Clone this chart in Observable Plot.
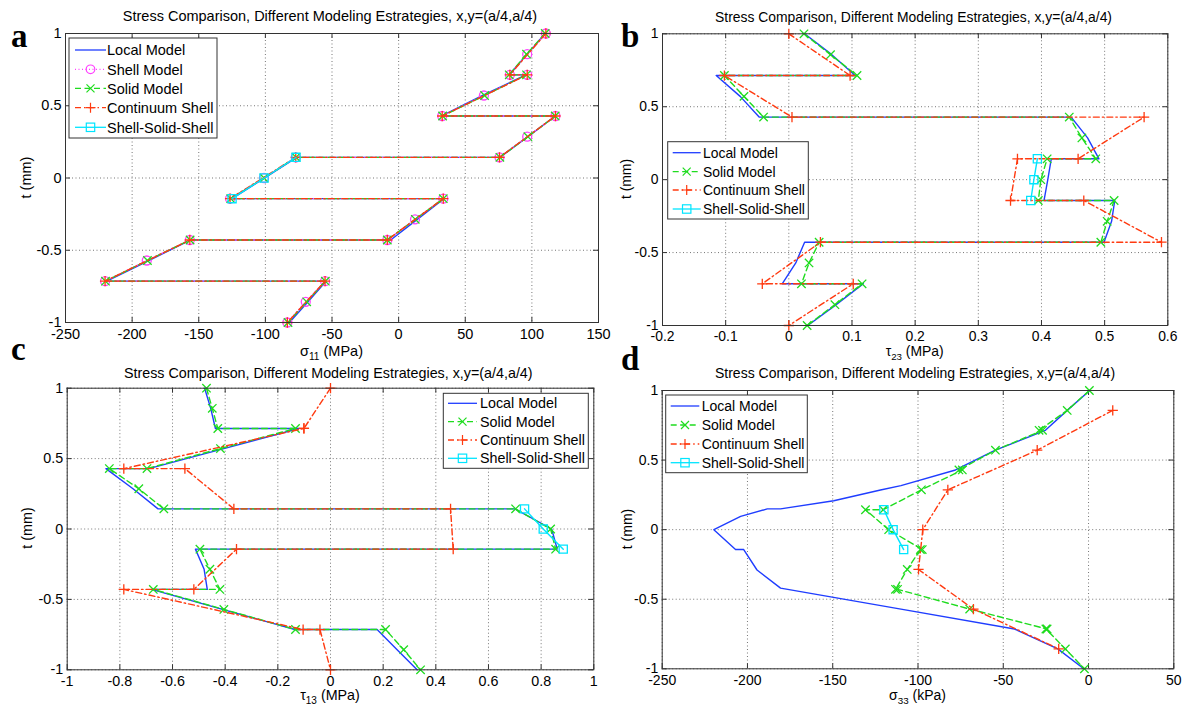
<!DOCTYPE html>
<html><head><meta charset="utf-8">
<script src="https://cdn.jsdelivr.net/npm/d3@7"></script>
<script src="https://cdn.jsdelivr.net/npm/@observablehq/plot@0.6"></script>
<style>
body{margin:0;background:#fff;}
#root{position:relative;width:1186px;height:707px;overflow:hidden;background:#fff;}
.pnl{position:absolute;}
#overlay{position:absolute;left:0;top:0;}
</style>
</head><body>
<div id="root"></div>
<script>
// ---------------- DATA ----------------
const yTicks = [-1, -0.5, 0, 0.5, 1];
const xTicksA = [-250, -200, -150, -100, -50, 0, 50, 100, 150];
const xTicksB = [-0.2, -0.1, 0, 0.1, 0.2, 0.3, 0.4, 0.5, 0.6];
const xTicksC = [-1, -0.8, -0.6, -0.4, -0.2, 0, 0.2, 0.4, 0.6, 0.8, 1];
const xTicksD = [-250, -200, -150, -100, -50, 0, 50];

// through-thickness positions t (mm)
const tFull = [1, 0.857, 0.714, 0.714, 0.571, 0.429, 0.429, 0.286, 0.143, 0.143, 0, -0.143, -0.143, -0.286, -0.429, -0.429, -0.571, -0.714, -0.714, -0.857, -1];
const tIface = [1, 0.714, 0.714, 0.429, 0.429, 0.143, 0.143, -0.143, -0.143, -0.429, -0.429, -0.714, -0.714, -1];
const tCore = [0.143, 0, -0.143];
const tMidLayer = [0.857, 0.571, 0.286, 0, -0.286, -0.571, -0.857];
const tLocalD = [1, 0.857, 0.714, 0.571, 0.429, 0.316, 0.285, 0.208, 0.149, 0.149, 0.095, 0, -0.143, -0.143, -0.29, -0.42, -0.571, -0.714, -0.857, -1];

// (a) sigma_11 (MPa)
const aLocal = [110, 96.5, 83, 95.5, 63, 32, 117.7, 97, 76, -76.5, -100.5, -125, 34, 14, -6, -156, -187.5, -219, -54.5, -68, -82];
const aShell = [110.5, 96.5, 83.5, 96.5, 64, 32.7, 117.7, 96.5, 75.7, -77.2, -101, -126.5, 33.5, 12.3, -8.5, -156.7, -189, -220.3, -55.2, -69.7, -83.5];
const aSolid = [110, 96, 83, 96, 64.5, 33, 117.5, 97, 76, -77, -101, -126, 33.5, 12.5, -8.5, -156.5, -188.5, -220, -55, -69, -83];
const aCont = [110.5, 83.5, 96.5, 32.7, 117.7, 75.7, -77.2, -126.5, 33.5, -8.5, -156.7, -220.3, -55.2, -83.5];
const aSSS = [-77, -101, -125];

// (b) tau_23 (MPa)
const bLocal = [0.025, 0.068, 0.105, -0.115, -0.077, -0.047, 0.447, 0.473, 0.491, 0.4155, 0.41, 0.404, 0.516, 0.511, 0.499, 0.025, 0.011, -0.0105, 0.118, 0.075, 0.030];
const bSolid = [0.024, 0.066, 0.108, -0.102, -0.071, -0.040, 0.444, 0.464, 0.486, 0.409, 0.399, 0.395, 0.515, 0.504, 0.494, 0.048, 0.032, 0.020, 0.116, 0.073, 0.029];
const bCont = [0, 0.097, -0.102, 0.005, 0.5625, 0.458, 0.362, 0.351, 0.467, 0.590, 0.050, -0.042, 0.102, 0];
const bSSS = [0.3935, 0.388, 0.383];

// (c) tau_13 (MPa)
const cLocal = [-0.478, -0.455, -0.437, -0.12, -0.405, -0.69, -0.853, -0.75, -0.655, 0.70, 0.84, 0.861, -0.513, -0.48, -0.468, -0.68, -0.41, -0.135, 0.177, 0.253, 0.329];
const cSolid = [-0.471, -0.449, -0.428, -0.133, -0.418, -0.697, -0.84, -0.728, -0.633, 0.703, 0.836, 0.855, -0.496, -0.458, -0.42, -0.673, -0.405, -0.133, 0.209, 0.278, 0.342];
const cCont = [0, -0.101, -0.101, -0.785, -0.553, -0.367, 0.456, 0.466, -0.357, -0.519, -0.785, -0.104, -0.04, 0];
const cSSS = [0.737, 0.808, 0.884];

// (d) sigma_33 (kPa)
const dLocal = [0.7, -12.5, -25.3, -54.6, -78, -110, -122, -149.4, -180.6, -188.4, -204, -219.7, -207, -202.2, -194.4, -180.6, -110, -43.4, -18, -2.8];
const dSolid = [0.5, -12.5, -29, -27, -54.6, -76, -74, -98, -120.4, -130.8, -117.2, -97.5, -98.6, -106.3, -113.2, -112, -69.7, -24.3, -25, -13.6, -2.4];
const dCont = [14.2, -30.1, -82.5, -97.2, -99.7, -67.5, -17.5];
const dSSS = [-120, -114.6, -108.4];

const titleText = "Stress Comparison, Different Modeling Estrategies, x,y=(a/4,a/4)";

// ---------------- STYLES ----------------
const FONT = '"Liberation Sans", Arial, Helvetica, sans-serif';
const SERIES = {
  local: {label: "Local Model", color: "#1f3dff", dash: null, symbol: null},
  shell: {label: "Shell Model", color: "#ff40ff", dash: "1,2.5", symbol: "circle", r: 4.5},
  solid: {label: "Solid Model", color: "#1fdc1f", dash: "6,3.5", symbol: "times", r: 3.9},
  cont:  {label: "Continuum Shell", color: "#ff3a10", dash: "6,3,1.5,3", symbol: "plus", r: 3.4},
  sss:   {label: "Shell-Solid-Shell", color: "#00e5ff", dash: null, symbol: "square", r: 4.6}
};
const zip = (ts, xs) => ts.map((t, i) => ({t, v: xs[i]}));

const panels = [
  {id: "a", left: 0, top: 0, w: 610, h: 345, ml: 65, mr: 12, mt: 33, mb: 23, fs: 14.5,
   xdom: [-250, 150], xticks: xTicksA,
   title: [330, 21], xlab: [331.5, 356, "σ", "11", " (MPa)"], ylab: [31, 177.5], letter: [11, 47],
   legend: {x: 69, y: 38, w: 148, h: 100, rows: [12, 31.3, 50.3, 69.7, 89.3], s0: 6, s1: 37, tx: 38},
   keys: ["local", "shell", "solid", "cont", "sss"],
   data: {local: zip(tFull, aLocal), shell: zip(tFull, aShell), solid: zip(tFull, aSolid), cont: zip(tIface, aCont), sss: zip(tCore, aSSS)}},
  {id: "b", left: 600, top: 0, w: 586, h: 345, ml: 62, mr: 18.7, mt: 33.3, mb: 20, fs: 13.9,
   xdom: [-0.2, 0.6], xticks: xTicksB,
   title: [913.5, 22], xlab: [914.7, 356, "τ", "23", " (MPa)"], ylab: [630.7, 179], letter: [621, 47],
   legend: {x: 667.7, y: 141.7, w: 140.6, h: 77.3, rows: [11, 30, 48.3, 67.3], s0: 5, s1: 33, tx: 35.3},
   keys: ["local", "solid", "cont", "sss"],
   data: {local: zip(tFull, bLocal), solid: zip(tFull, bSolid), cont: zip(tIface, bCont), sss: zip(tCore, bSSS)}},
  {id: "c", left: 0, top: 350, w: 610, h: 350, ml: 66.7, mr: 16.7, mt: 37.7, mb: 30.7, fs: 14.3,
   xdom: [-1, 1], xticks: xTicksC,
   title: [328.3, 378], xlab: [330, 700, "τ", "13", " (MPa)"], ylab: [31.5, 528], letter: [11, 360],
   legend: {x: 443.3, y: 393.3, w: 145, h: 75, rows: [10, 28.4, 46.7, 65], s0: 4.7, s1: 33.7, tx: 36.7},
   keys: ["local", "solid", "cont", "sss"],
   data: {local: zip(tFull, cLocal), solid: zip(tFull, cSolid), cont: zip(tIface, cCont), sss: zip(tCore, cSSS)}},
  {id: "d", left: 600, top: 350, w: 586, h: 350, ml: 61.7, mr: 12.7, mt: 40, mb: 31.7, fs: 14.0,
   xdom: [-250, 50], xticks: xTicksD,
   title: [915, 378], xlab: [917.5, 700, "σ", "33", " (kPa)"], ylab: [632, 529], letter: [621, 370],
   legend: {x: 665.7, y: 395, w: 141.6, h: 77.7, rows: [11, 30, 49, 67.7], s0: 5, s1: 33.6, tx: 36},
   keys: ["local", "solid", "cont", "sss"],
   data: {local: zip(tLocalD, dLocal), solid: zip(tFull, dSolid), cont: zip(tMidLayer, dCont), sss: zip(tCore, dSSS)}}
];

const root = document.getElementById("root");
const fmt = d => String(d);

for (const p of panels) {
  const [x0, x1] = p.xdom;
  const fw = p.w - p.ml - p.mr, fh = p.h - p.mt - p.mb;
  const tdx = 5 / fw * (x1 - x0), tdy = 5 / fh * 2;
  const marks = [
    Plot.gridX(p.xticks, {stroke: "#777", strokeOpacity: 1, strokeDasharray: "1,2.5"}),
    Plot.gridY(yTicks, {stroke: "#777", strokeOpacity: 1, strokeDasharray: "1,2.5"}),
    Plot.axisX({ticks: p.xticks, tickFormat: fmt, tickSize: 0, tickPadding: 6, label: null}),
    Plot.axisY({ticks: yTicks, tickFormat: fmt, tickSize: 0, tickPadding: 4, label: null}),
    Plot.ruleX(p.xticks, {y1: -1, y2: -1 + tdy, stroke: "#333"}),
    Plot.ruleX(p.xticks, {y1: 1, y2: 1 - tdy, stroke: "#333"}),
    Plot.ruleY(yTicks, {x1: x0, x2: x0 + tdx, stroke: "#333"}),
    Plot.ruleY(yTicks, {x1: x1, x2: x1 - tdx, stroke: "#333"})
  ];
  for (const k of p.keys) {
    const S = SERIES[k], d = p.data[k];
    marks.push(Plot.line(d, {x: "v", y: "t", stroke: S.color, strokeWidth: 1.4, strokeDasharray: S.dash || undefined}));
    if (S.symbol) marks.push(Plot.dot(d, {x: "v", y: "t", symbol: S.symbol, r: S.r, stroke: S.color, fill: "none", strokeWidth: 1.3}));
  }
  marks.push(Plot.frame({stroke: "#333"}));
  const svg = Plot.plot({
    width: p.w, height: p.h,
    marginLeft: p.ml, marginRight: p.mr, marginTop: p.mt, marginBottom: p.mb,
    style: {fontSize: p.fs + "px", fontFamily: FONT, background: "transparent", color: "#000", overflow: "visible"},
    x: {domain: p.xdom},
    y: {domain: [-1, 1]},
    marks
  });
  const div = document.createElement("div");
  div.className = "pnl";
  div.style.left = p.left + "px"; div.style.top = p.top + "px";
  div.style.width = p.w + "px"; div.style.height = p.h + "px";
  div.appendChild(svg);
  root.appendChild(div);
}

// overlay: titles, labels, legends, panel letters
function markerSVG(S, x, y) {
  const c = S.color;
  if (S.symbol === "circle") return `<circle cx="${x}" cy="${y}" r="4.3" fill="none" stroke="${c}" stroke-width="1.2"/>`;
  if (S.symbol === "times") return `<path d="M${x-4},${y-4}L${x+4},${y+4}M${x-4},${y+4}L${x+4},${y-4}" stroke="${c}" stroke-width="1.2"/>`;
  if (S.symbol === "plus") return `<path d="M${x-5},${y}H${x+5}M${x},${y-5}V${y+5}" stroke="${c}" stroke-width="1.2"/>`;
  if (S.symbol === "square") return `<rect x="${x-4.2}" y="${y-4.2}" width="8.4" height="8.4" fill="none" stroke="${c}" stroke-width="1.2"/>`;
  return "";
}
let o = `<svg id="overlay" width="1186" height="707" xmlns="http://www.w3.org/2000/svg" font-family='${FONT}'>`;
for (const p of panels) {
  o += `<text x="${p.title[0]}" y="${p.title[1]}" text-anchor="middle" font-size="${p.fs}">${titleText}</text>`;
  o += `<text x="${p.xlab[0]}" y="${p.xlab[1]}" text-anchor="middle" font-size="${p.fs}">${p.xlab[2]}<tspan font-size="${p.fs*0.7}" dy="4">${p.xlab[3]}</tspan><tspan dy="-4"> ${p.xlab[4].trim()}</tspan></text>`;
  o += `<text transform="translate(${p.ylab[0]},${p.ylab[1]}) rotate(-90)" text-anchor="middle" font-size="${p.fs}">t (mm)</text>`;
  o += `<text x="${p.letter[0]}" y="${p.letter[1]}" font-family='"Liberation Serif","Times New Roman",serif' font-weight="bold" font-size="33">${p.id}</text>`;
  const L = p.legend;
  o += `<rect x="${L.x}" y="${L.y}" width="${L.w}" height="${L.h}" fill="#fff" stroke="#333" stroke-width="1"/>`;
  p.keys.forEach((k, i) => {
    const S = SERIES[k];
    const y = L.y + L.rows[i], xa = L.x + L.s0, xb = L.x + L.s1, xm = (xa + xb) / 2;
    o += `<line x1="${xa}" x2="${xb}" y1="${y}" y2="${y}" stroke="${S.color}" stroke-width="1.3"${S.dash ? ` stroke-dasharray="${S.dash}"` : ""}/>`;
    o += markerSVG(S, xm, y);
    o += `<text x="${L.x + L.tx}" y="${y + p.fs * 0.36}" font-size="${p.fs}">${S.label}</text>`;
  });
}
o += `</svg>`;
root.insertAdjacentHTML("beforeend", o);
</script>
</body></html>
